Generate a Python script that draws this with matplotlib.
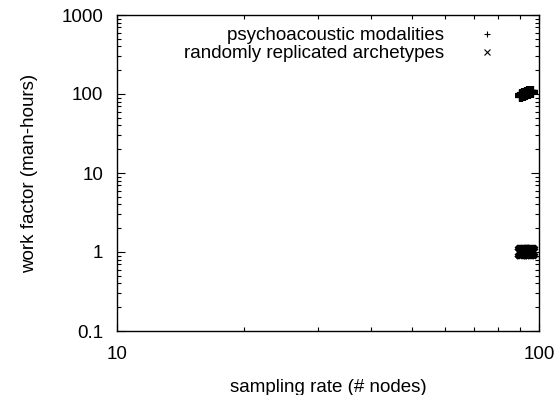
import matplotlib
matplotlib.use('Agg')
import matplotlib.pyplot as plt
from matplotlib.ticker import LogLocator, NullFormatter, FixedLocator, FixedFormatter

plt.rcParams['font.family'] = ['Liberation Sans', 'DejaVu Sans']

# psychoacoustic modalities
psy_x = [90.4, 90.6, 90.8, 91.0, 91.2, 91.4, 91.6, 91.8, 92.0, 92.2,
         92.4, 92.6, 92.8, 93.0, 93.2, 93.4, 93.6, 93.8, 94.0, 94.2,
         94.4, 94.6, 94.8, 95.0, 95.2, 95.4, 95.6, 95.8, 96.0, 96.2]
psy_y = [95.0, 97.0, 95.5, 97.5, 96.5, 98.5, 97.0, 99.5, 98.0, 100.5,
         99.0, 101.0, 100.0, 102.0, 100.5, 103.0, 101.5, 104.0, 102.5, 105.0,
         103.0, 105.5, 104.0, 106.5, 104.5, 107.0, 105.0, 107.5, 105.5, 107.0]

# randomly replicated archetypes
rra_x = [90.4, 90.6, 90.8, 91.0, 91.2, 91.4, 91.6, 91.8, 92.0, 92.2,
         92.4, 92.6, 92.8, 93.0, 93.2, 93.4, 93.6, 93.8, 94.0, 94.2,
         94.4, 94.6, 94.8, 95.0, 95.2, 95.4, 95.6, 95.8, 96.0, 96.2]
rra_y = [0.97, 1.03, 0.98, 1.02, 0.97, 1.03, 1.0, 0.97, 1.03, 0.99,
         1.02, 0.97, 1.03, 1.0, 0.97, 1.03, 0.98, 1.02, 0.97, 1.03,
         1.0, 0.97, 1.03, 0.98, 1.02, 0.97, 1.03, 1.0, 0.98, 1.02]

y_ticks = [0.1, 1, 10, 100, 1000]
y_labels = ['0.1', '1', '10', '100', '1000']
x_ticks = [10, 100]
x_labels = ['10', '100']

fig = plt.figure(figsize=(5.6, 3.95), dpi=100)
ax = fig.add_axes([117 / 560, 1 - 331 / 395, 422 / 560, 316 / 395])

ax.plot(psy_x, psy_y, '+', color='black', markersize=8, markeredgewidth=3.0,
        label='psychoacoustic modalities')
ax.plot(rra_x, rra_y, 'x', color='black', markersize=7, markeredgewidth=3.0,
        label='randomly replicated archetypes')

ax.set_xscale('log')
ax.set_yscale('log')
ax.set_xlim(10, 100)
ax.set_ylim(0.1, 1000)

ax.xaxis.set_major_locator(FixedLocator(x_ticks))
ax.xaxis.set_major_formatter(FixedFormatter(x_labels))
ax.yaxis.set_major_locator(FixedLocator(y_ticks))
ax.yaxis.set_major_formatter(FixedFormatter(y_labels))
ax.xaxis.set_minor_locator(LogLocator(base=10, subs=range(2, 10)))
ax.yaxis.set_minor_locator(LogLocator(base=10, subs=range(2, 10)))
ax.xaxis.set_minor_formatter(NullFormatter())
ax.yaxis.set_minor_formatter(NullFormatter())

ax.tick_params(which='both', direction='in', top=True, right=True, labelsize=13.5)
ax.tick_params(which='major', length=6, width=0.8)
ax.tick_params(axis='x', which='major', pad=11)
ax.tick_params(axis='y', which='major', pad=10)
ax.tick_params(which='minor', length=3, width=0.8)
for s in ax.spines.values():
    s.set_linewidth(1.0)

ax.set_xlabel('sampling rate (# nodes)', fontsize=13.5, labelpad=11)
ax.set_ylabel('work factor (man-hours)', fontsize=13.5, labelpad=17)

leg = ax.legend(loc='upper right', bbox_to_anchor=(0.938, 1.015), frameon=False,
                markerfirst=False, fontsize=13.5, handlelength=1.0,
                handletextpad=1.76, labelspacing=0.05)
for h in leg.legend_handles:
    h.set_markersize(4)
    h.set_markeredgewidth(0.8)

fig.savefig('out.png', dpi=100)
